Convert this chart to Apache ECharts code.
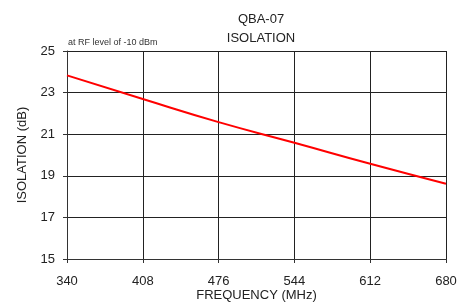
<!DOCTYPE html>
<html>
<head>
<meta charset="utf-8">
<style>
  html, body { margin: 0; padding: 0; background: #fff; }
  #chart { width: 472px; height: 304px; }
</style>
</head>
<body>
<div id="chart"></div>
<script src="https://cdn.jsdelivr.net/npm/echarts@6/dist/echarts.min.js"></script>
<script>
    // data
    const freqs = [340, 408, 476, 544, 612, 680];
    const isolation = [23.83, 22.69, 21.58, 20.59, 19.58, 18.62];

    const myChart = echarts.init(document.getElementById('chart'));
    const font = 'Liberation Sans, Arial, sans-serif';

    const option = {
        animation: false,
        title: {
            text: 'QBA-07\nISOLATION',
            left: 256,
            top: 5,
            textAlign: 'center',
            textStyle: {
                fontFamily: font,
                fontSize: 13,
                fontWeight: 'normal',
                color: '#222',
                lineHeight: 19
            }
        },
        graphic: [{
            type: 'text',
            left: 68,
            top: 38,
            style: {
                text: 'at RF level of -10 dBm',
                font: '9px ' + font,
                fill: '#333'
            }
        }],
        grid: {
            left: 67,
            right: 26,
            top: 51,
            bottom: 45,
            outerBoundsMode: 'none'
        },
        xAxis: {
            type: 'value',
            min: 340,
            max: 680,
            interval: 68,
            name: 'FREQUENCY (MHz)',
            nameLocation: 'middle',
            nameGap: 30,
            nameMoveOverlap: false,
            nameTextStyle: { fontFamily: font, fontSize: 13, color: '#222' },
            axisLine: { show: true, lineStyle: { color: '#333', width: 1 } },
            axisTick: { show: true, length: 4, lineStyle: { color: '#333' } },
            axisLabel: { fontFamily: font, fontSize: 13, color: '#222', margin: 16 },
            splitLine: { show: true, lineStyle: { color: '#222', width: 1 } }
        },
        yAxis: {
            type: 'value',
            min: 15,
            max: 25,
            interval: 2,
            name: 'ISOLATION (dB)',
            nameLocation: 'middle',
            nameGap: 38,
            nameMoveOverlap: false,
            nameTextStyle: { fontFamily: font, fontSize: 13, color: '#222' },
            axisLine: { show: true, lineStyle: { color: '#333', width: 1 } },
            axisTick: { show: true, length: 4, lineStyle: { color: '#333' } },
            axisLabel: { fontFamily: font, fontSize: 13, color: '#222', margin: 12 },
            splitLine: { show: true, lineStyle: { color: '#222', width: 1 } }
        },
        series: [{
            type: 'line',
            data: freqs.map((f, i) => [f, isolation[i]]),
            showSymbol: false,
            smooth: true,
            lineStyle: { color: '#ff0000', width: 2 }
        }]
    };

    myChart.setOption(option);
</script>
</body>
</html>
